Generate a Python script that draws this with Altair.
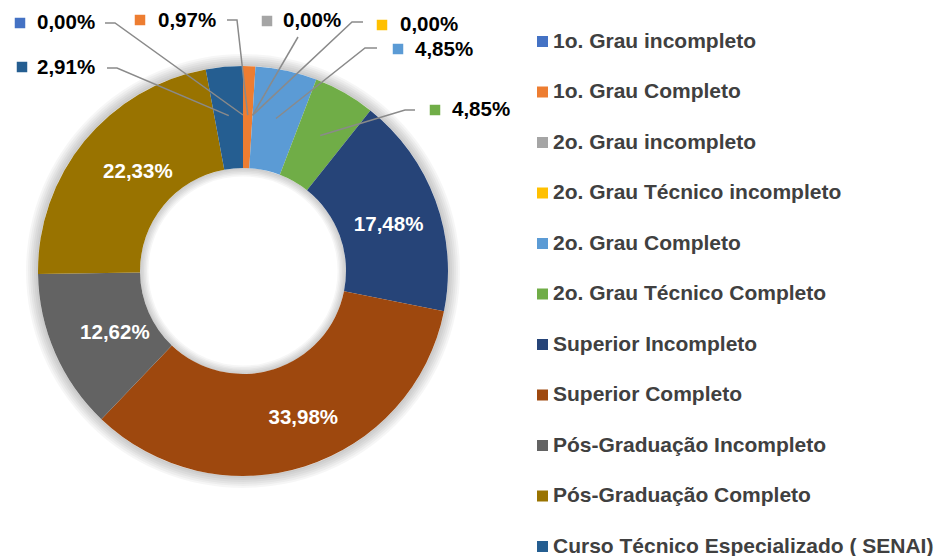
import math
import altair as alt
import pandas as pd

# ---------------- data ----------------
categories = [
    "1o. Grau incompleto",
    "1o. Grau Completo",
    "2o. Grau incompleto",
    "2o. Grau Técnico incompleto",
    "2o. Grau Completo",
    "2o. Grau Técnico Completo",
    "Superior Incompleto",
    "Superior Completo",
    "Pós-Graduação Incompleto",
    "Pós-Graduação Completo",
    "Curso Técnico Especializado ( SENAI)",
]
values = [0.00, 0.97, 0.00, 0.00, 4.85, 4.85, 17.48, 33.98, 12.62, 22.33, 2.91]
colors = ["#4472C4", "#ED7D31", "#A5A5A5", "#FFC000", "#5B9BD5", "#70AD47",
          "#264478", "#9E480E", "#636363", "#997300", "#255E91"]
inside_labeled = ["Superior Incompleto", "Superior Completo",
                  "Pós-Graduação Incompleto", "Pós-Graduação Completo"]

# ---------------- layout (page pixels) ----------------
M = 8                      # page margin
W, H = 470, 526            # plot area: donut centred in it
R_OUT, R_IN = 205, 103
R_LEADER = 156
R_INLABEL = 154
FONT = "Liberation Sans"
inside_nudge = {
    "Superior Incompleto": (1, 7),
    "Superior Completo": (14, 0),
    "Pós-Graduação Incompleto": (13, 0),
    "Pós-Graduação Completo": (14, -1),
}
# callout boxes: marker centre, text start, leader start, leader elbow
callouts = {
    "1o. Grau incompleto": ((20, 23), (37, 23), (105, 23), (115, 23)),
    "1o. Grau Completo": ((140, 20), (158, 21), (227, 20), (237, 20)),
    "2o. Grau incompleto": ((267, 21), (283, 21), (298, 37), (298, 37)),
    "2o. Grau Técnico incompleto": ((382, 25), (400, 25), (363, 22), (352, 22)),
    "2o. Grau Completo": ((398, 49), (415, 50), (377, 48), (365, 48)),
    "2o. Grau Técnico Completo": ((435, 110), (452, 110), (415, 110), (405, 110)),
    "Curso Técnico Especializado ( SENAI)": ((22, 67), (37, 68), (107, 68), (117, 68)),
}

CX, CY = W / 2, H / 2
total = sum(values)


def fmt(v):
    return f"{v:.2f}".replace(".", ",") + "%"


rows, cum = [], 0.0
for i, (c, v, col) in enumerate(zip(categories, values, colors)):
    mid = (cum + v / 2) / total * 2 * math.pi
    cum += v
    rows.append(dict(idx=i, cat=c, value=v, color=col, label=fmt(v),
                     sx=math.sin(mid), sy=-math.cos(mid)))
df = pd.DataFrame(rows)

# inside labels
ins = []
for r in rows:
    if r["cat"] in inside_labeled:
        dx, dy = inside_nudge[r["cat"]]
        ins.append(dict(label=r["label"],
                        px=CX + R_INLABEL * r["sx"] + dx,
                        py=CY + R_INLABEL * r["sy"] + dy))
ins_df = pd.DataFrame(ins)

# callouts
marks, texts, lines = [], [], []
for r in rows:
    if r["cat"] in callouts:
        mk, tx, st, el = callouts[r["cat"]]
        marks.append(dict(px=mk[0] - M, py=mk[1] - M, color=r["color"]))
        texts.append(dict(px=tx[0] - M, py=tx[1] - M, label=r["label"]))
        pts = [(st[0] - M, st[1] - M), (el[0] - M, el[1] - M),
               (CX + R_LEADER * r["sx"], CY + R_LEADER * r["sy"])]
        for k, (x, y) in enumerate(pts):
            lines.append(dict(cat=r["cat"], step=k, px=x, py=y))
marks_df = pd.DataFrame(marks)
texts_df = pd.DataFrame(texts)
lines_df = pd.DataFrame(lines)

X = alt.X("px:Q", scale=alt.Scale(domain=[0, W], nice=False, zero=False), axis=None)
Y = alt.Y("py:Q", scale=alt.Scale(domain=[0, H], nice=False, zero=False, reverse=True), axis=None)

# soft shadow rings
shadow_rows = []
for k in range(6):
    shadow_rows.append(dict(r1=R_OUT, r2=R_OUT + 2 + 2 * k, o=0.035))
    shadow_rows.append(dict(r1=R_IN - 1 - 1.5 * k, r2=R_IN, o=0.035))
shadow_df = pd.DataFrame(shadow_rows)
shadow = alt.Chart(shadow_df).mark_arc(theta=0, theta2=2 * math.pi, color="#000000").encode(
    radius=alt.Radius("r1:Q", scale=None),
    radius2=alt.Radius2("r2:Q"),
    opacity=alt.Opacity("o:Q", scale=None),
)

donut = alt.Chart(df).mark_arc(outerRadius=R_OUT, innerRadius=R_IN).encode(
    theta=alt.Theta("value:Q", stack=True),
    order=alt.Order("idx:Q", sort="ascending"),
    color=alt.Color(
        "cat:N",
        sort=categories,
        scale=alt.Scale(domain=categories, range=colors),
        legend=alt.Legend(
            orient="none", legendX=524, legendY=23, title=None,
            symbolType="square", symbolSize=121, symbolStrokeWidth=0, symbolOpacity=1,
            labelFont=FONT, labelFontSize=21, labelFontWeight="bold",
            labelColor="#404040", labelLimit=600, rowPadding=28.5,
            labelOffset=0, padding=0,
        ),
    ),
)

in_text = alt.Chart(ins_df).mark_text(
    font=FONT, fontSize=20.5, fontWeight="bold", color="white",
    align="center", baseline="middle",
).encode(x=X, y=Y, text="label:N")

leader = alt.Chart(lines_df).mark_line(color="#8a8a8a", strokeWidth=1.5).encode(
    x=X, y=Y, detail="cat:N", order="step:Q"
)

markers = alt.Chart(marks_df).mark_square(size=110, opacity=1).encode(
    x=X, y=Y, color=alt.Color("color:N", scale=None)
)

out_text = alt.Chart(texts_df).mark_text(
    font=FONT, fontSize=20.5, fontWeight="bold", color="#000000",
    align="left", baseline="middle",
).encode(x=X, y=Y, text="label:N")

chart = alt.layer(shadow, donut, in_text, leader, markers, out_text).properties(
    width=W, height=H, padding=0, background="white"
).configure_view(stroke=None, strokeWidth=0)

chart.save("out.html", embed_options={"renderer": "svg", "actions": False})
